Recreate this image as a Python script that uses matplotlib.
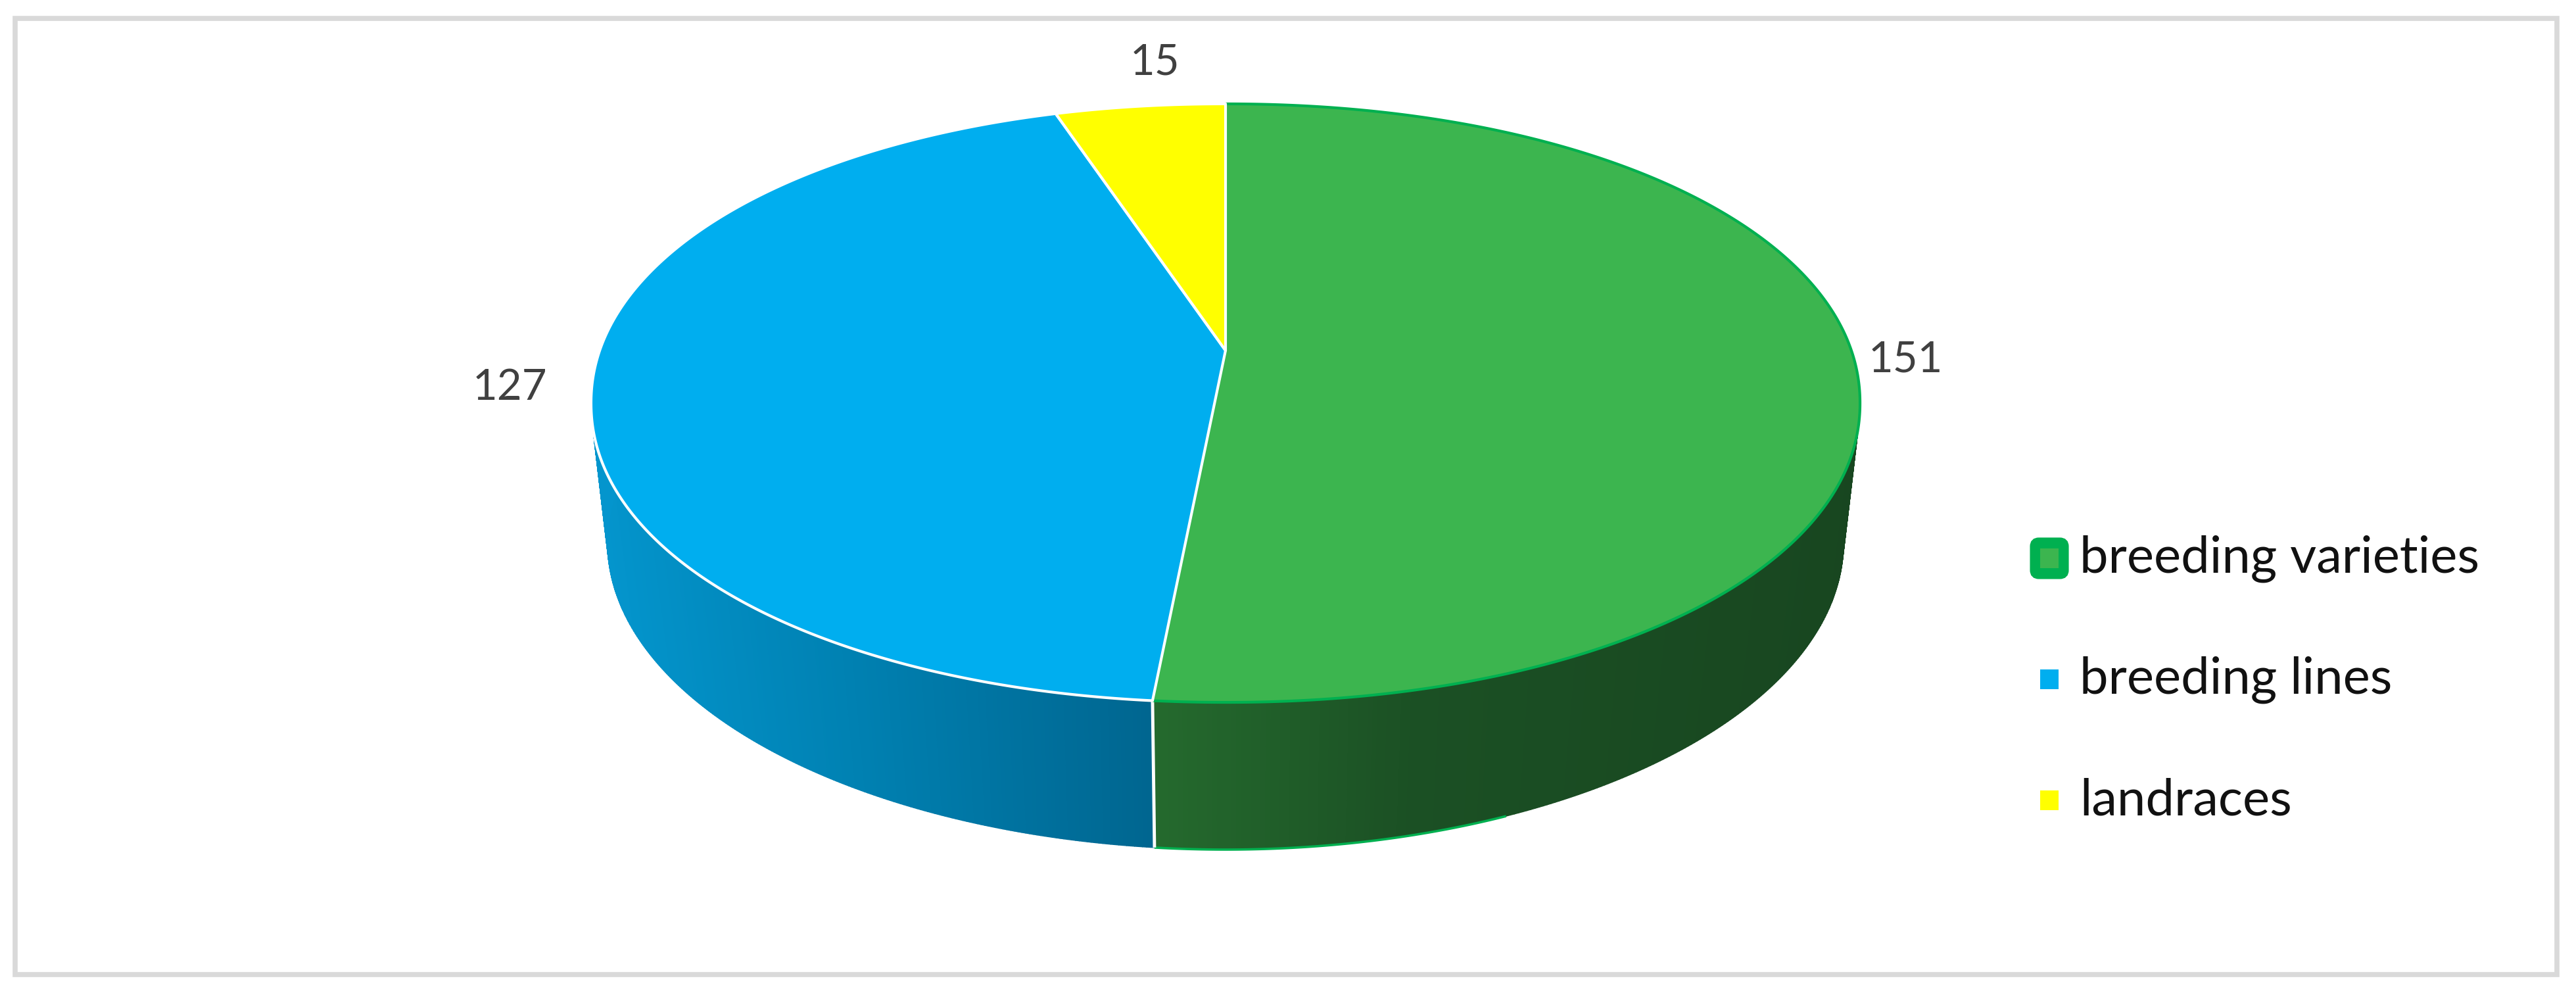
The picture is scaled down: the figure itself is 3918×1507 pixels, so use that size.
import numpy as np
import matplotlib
matplotlib.use("Agg")
import matplotlib.pyplot as plt
from matplotlib.collections import PolyCollection
from matplotlib.patches import Polygon, Rectangle, FancyBboxPatch
from matplotlib.colors import to_rgb

categories = ["breeding varieties", "breeding lines", "landraces"]
values = [151, 127, 15]
colors = ["#3CB54F", "#00AEEF", "#FFFF00"]
edges = ["#00B050", "#FFFFFF", "#FFFFFF"]
side_stops = [
    [(1745, "#256B2E"), (2150, "#1B5024"), (2830, "#184620")],
    [(900, "#0496CE"), (1300, "#0081B2"), (1750, "#006690")],
    [(1600, "#C8C800"), (1870, "#C8C800")],
]
label_pos = [(2898, 547), (775, 590), (1757, 95)]
legend_y = [849, 1033, 1217]

W, H = 3918, 1507
CX, CY = 1864, 533
A, B, K = 950.0, 441.0, 0.1758
SX, SY, DY = 0.974, 1.026, 210.0
RX, RY, CY0 = 965.0, 455.0, 613.0
N = 2.06

plt.rcParams["font.family"] = ["Lato", "DejaVu Sans"]
fig = plt.figure(figsize=(W / 100, H / 100), dpi=100, facecolor="white")
ax = fig.add_axes([0, 0, 1, 1])
ax.set_xlim(0, W)
ax.set_ylim(H, 0)
ax.axis("off")


def base_xy(theta):
    x, y = np.sin(theta), np.cos(theta)
    d = 1 + K * y
    return CX + A * x / d, CY - B * y / d


def top_xy(theta):
    """Rim of the top face: the projected circle, slightly fuller at its shoulders."""
    X, Y = base_xy(theta)
    u, v = (X - CX) / RX, (Y - CY0) / RY
    r = np.hypot(u, v)
    f = 1 / (np.abs(u / r) ** N + np.abs(v / r) ** N) ** (1 / N)
    return CX + RX * u * f, CY0 + RY * v * f


def bot_xy(theta):
    X, Y = base_xy(theta)
    return CX + SX * (X - CX), CY + SY * (Y - CY) + DY


def side_color(stops, x):
    xs = [s[0] for s in stops]
    rgb = np.array([to_rgb(s[1]) for s in stops])
    return tuple(np.interp(x, xs, rgb[:, i]) for i in range(3))


# outer frame
ax.add_patch(Rectangle((23, 28), 3866, 1454, fill=False, ec="#D9D9D9", lw=5.5, zorder=1))

total = sum(values)
bounds = np.concatenate([[0], np.cumsum(values)]) / total * 2 * np.pi

# sides
for i in range(len(values)):
    th = np.linspace(bounds[i], bounds[i + 1], 500)
    tx, ty = top_xy(th)
    bx, by = bot_xy(th)
    quads, cols = [], []
    for j in range(len(th) - 1):
        if np.cos((th[j] + th[j + 1]) / 2) > 0.35:
            continue
        quads.append([(tx[j], ty[j]), (tx[j + 1], ty[j + 1]), (bx[j + 1], by[j + 1]), (bx[j], by[j])])
        cols.append(side_color(side_stops[i], (tx[j] + bx[j]) / 2))
    pc = PolyCollection(quads, facecolors=cols, edgecolors=cols, linewidths=1.0, zorder=2)
    ax.add_collection(pc)
    # lower rim, only along the visible front stretch
    mask = np.cos(th) < -0.92
    if i == 0:
        ax.plot(bx[mask], by[mask], color=edges[i], lw=2.6, zorder=3, solid_capstyle="butt")

# seam between green and blue sides
xt, yt = top_xy(bounds[1])
xb, yb = bot_xy(bounds[1])
ax.plot([xt, xb], [yt, yb], color="#FFFFFF", lw=3.5, zorder=3, solid_capstyle="butt")

# top faces
for i in [0, 1, 2]:
    th = np.linspace(bounds[i], bounds[i + 1], 600)
    X, Y = top_xy(th)
    pts = np.column_stack([np.r_[CX, X], np.r_[CY, Y]])
    ax.add_patch(Polygon(pts, closed=True, fc=colors[i], ec=edges[i], lw=3.0, joinstyle="round", zorder=4))

# data labels
for v, (x, y) in zip(values, label_pos):
    ax.text(x, y, str(v), color="#404040", fontsize=47, ha="center", va="center", zorder=6)

# legend
ax.add_patch(FancyBboxPatch((3093, 823), 48, 52, boxstyle="round,pad=0,rounding_size=8",
                            fc="#00B050", ec="#00B050", lw=8, zorder=5))
for c, y, name in zip(colors, legend_y, categories):
    ax.add_patch(Rectangle((3103, y - 15), 28, 30, fc=c, ec="none", zorder=6))
    ax.text(3163, y + 22, name, color="#111111", fontsize=56, ha="left", va="baseline", zorder=6)

fig.savefig("out.png", dpi=100, facecolor="white")
